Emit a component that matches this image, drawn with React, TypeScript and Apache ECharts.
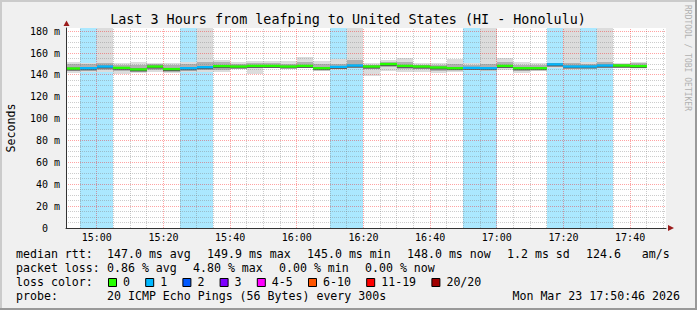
import React, { useEffect, useRef } from 'react';
import * as echarts from 'echarts';

// ---- data ----
const stepStarts = ['14:50','14:55','15:00','15:05','15:10','15:15','15:20','15:25','15:30','15:35','15:40','15:45','15:50','15:55','16:00','16:05','16:10','16:15','16:20','16:25','16:30','16:35','16:40','16:45','16:50','16:55','17:00','17:05','17:10','17:15','17:20','17:25','17:30','17:35','17:40'];
const medianMs = [145.8,146.1,147.6,146.4,145.0,147.6,145.3,146.1,147.0,148.0,147.6,148.2,148.2,147.6,148.2,146.1,147.3,148.5,147.6,149.9,148.2,147.6,146.7,146.1,146.4,146.1,148.2,146.1,146.1,149.6,147.6,147.6,148.5,148.5,148.0];
const lossCount = [0,1,1,0,0,0,0,1,1,0,0,0,0,0,0,0,1,1,0,0,0,0,0,0,1,1,0,0,0,1,1,1,1,0,0];
const smokeLo = [141.5,143,143,141,142,143,142,143,143,143,145.5,140.9,146,146,146.5,144,144.5,146,139.1,143.5,143,143,142,143,144.5,144,144.5,142,143.5,146.5,145,146,146,146,146];
const smokeHi = [152,151.3,200,151.3,152,151.3,150.7,152.2,200,153.7,151.5,153,153,152.5,156.7,153,154.3,200,151,153.7,156,150.7,150.7,154.3,150.7,200,155.2,152.2,151.3,151.3,200,152.2,200,151.3,152.2];
const innerLo = [143.5,144.0,144.5,143.5,143.0,145.0,143.0,144.0,144.5,144.5,146.0,146.0,146.5,146.0,146.5,144.5,145.5,146.5,145.5,147.0,145.5,145.5,144.0,144.5,145.0,144.5,146.0,144.0,144.5,147.5,146.0,146.5,146.5,146.5,146.5];
const innerHi = [150.5,150.0,151.0,149.5,149.5,150.0,149.0,150.5,151.5,151.5,150.0,151.0,151.0,150.5,152.0,150.5,150.5,153.5,149.5,152.0,151.5,149.5,149.0,150.0,149.0,150.5,151.5,149.0,149.0,151.0,151.0,150.5,152.0,150.5,151.0];
const xTickLabels = ['15:00','15:20','15:40','16:00','16:20','16:40','17:00','17:20','17:40'];
const yTickValues = [0,20,40,60,80,100,120,140,160,180];
const rttStats = ['147.0 ms avg','149.9 ms max','145.0 ms min','148.0 ms now','1.2 ms sd','124.6   am/s'];
const lossStats = ['0.86 % avg','4.80 % max','0.00 % min','0.00 % now'];
const lossLegendLabels = ['0','1','2','3','4-5','6-10','11-19','20/20'];
const titleText = 'Last 3 Hours from leafping to United States (HI - Honolulu)';
const probeText = '20 ICMP Echo Pings (56 Bytes) every 300s';
const dateText = 'Mon Mar 23 17:50:46 2026';

// ---- styles / layout ----
const lossColors = ['#26ff00','#00b8ff','#0059ff','#7e00ff','#ff00ff','#ff5500','#ff0000','#a10000'];
const MONO = '"DejaVu Sans Mono", monospace';
const STEP_MIN = 5;
const TIME_MIN = 14 * 60 + 50 + 46 / 60;
const TIME_MAX = TIME_MIN + 180;
const Y_MAX = 183;
const CHAR_W = 7;

function toMin(s: string) { const [h, m] = s.split(':').map(Number); return h * 60 + m; }
function fmtTime(v: number) {
  const h = Math.floor(v / 60); const m = Math.round(v - h * 60);
  return `${h}:${String(m).padStart(2, '0')}`;
}
function lossColorIdx(c: number) {
  if (c <= 0) return 0; if (c === 1) return 1; if (c === 2) return 2; if (c === 3) return 3;
  if (c <= 5) return 4; if (c <= 10) return 5; if (c <= 19) return 6; return 7;
}

function clipRect(params: any, api: any, xa: number, xb: number, ylo: number, yhi: number, roundY = false) {
  const a = api.coord([xa, yhi]);
  const b = api.coord([xb, ylo]);
  const x0 = Math.round(a[0]); const x1 = Math.round(b[0]);
  let y0 = a[1]; let y1 = b[1];
  if (roundY) { y0 = Math.round(y0); y1 = Math.round(y1); }
  const cs = params.coordSys;
  return echarts.graphic.clipRectByRect(
    { x: x0, y: y0, width: x1 - x0, height: y1 - y0 },
    { x: cs.x, y: cs.y, width: cs.width, height: cs.height }
  );
}

export default function App() {
  const ref = useRef<HTMLDivElement>(null);
  useEffect(() => {
    if (!ref.current) return;
    const chart = echarts.init(ref.current, undefined, { renderer: 'svg' });

    const steps = stepStarts.map((s, i) => {
      const t = toMin(s);
      return [t, t + STEP_MIN, smokeLo[i], smokeHi[i], innerLo[i], innerHi[i], medianMs[i], lossCount[i]];
    });

    // grid lines (layout, not data)
    const gridLines: number[][] = [];
    for (let t = 895; t <= 1070; t += 5) gridLines.push([t, 0, t, Y_MAX, t % 20 === 0 ? 1 : 0, 0]);
    for (let v = 5; v <= 180; v += 5) gridLines.push([TIME_MIN, v, TIME_MAX, v, v % 20 === 0 ? 1 : 0, 1]);

    const graphic: any[] = [];
    const txt = (text: string, x: number, y: number, extra: any = {}, el: any = {}) => ({
      type: 'text', x, y, z: 20, silent: true, ...el,
      style: {
        text, fontSize: 11.6, fontFamily: MONO, fill: '#000',
        align: 'left', verticalAlign: 'middle', textAlign: 'left', textVerticalAlign: 'middle', ...extra,
      },
    });
    // frame shading
    graphic.push({ type: 'rect', z: 1, silent: true, shape: { x: 0, y: 0, width: 697, height: 2 }, style: { fill: '#cbcbcb' } });
    graphic.push({ type: 'rect', z: 1, silent: true, shape: { x: 0, y: 0, width: 2, height: 310 }, style: { fill: '#cbcbcb' } });
    graphic.push({ type: 'rect', z: 1, silent: true, shape: { x: 0, y: 308, width: 697, height: 2 }, style: { fill: '#999999' } });
    graphic.push({ type: 'rect', z: 1, silent: true, shape: { x: 695, y: 0, width: 2, height: 310 }, style: { fill: '#999999' } });
    // title
    graphic.push(txt(titleText, 348, 19, { fontSize: 13.4, align: 'center', textAlign: 'center' }));
    // y label
    graphic.push(txt('Seconds', 0, 0, { align: 'center', textAlign: 'center' }, { x: 11, y: 128, rotation: Math.PI / 2 }));
    // watermark
    graphic.push(txt('RRDTOOL / TOBI OETIKER', 0, 0, { fontSize: 8, fill: '#b0b0b0' }, { x: 687, y: 5, rotation: -Math.PI / 2 }));
    // arrows
    graphic.push({ type: 'polygon', z: 20, silent: true, shape: { points: [[63.5, 26], [69.5, 26], [66.5, 20.5]] }, style: { fill: '#9b1c1c' } });
    graphic.push({ type: 'polygon', z: 20, silent: true, shape: { points: [[668, 225], [668, 231], [674, 228]] }, style: { fill: '#9b1c1c' } });
    // legend row 1
    graphic.push(txt('median rtt:', 16, 254));
    let x = 107;
    rttStats.forEach((s) => { graphic.push(txt(s, x, 254)); x += s.length * CHAR_W + 16; });
    // legend row 2
    graphic.push(txt('packet loss:', 16, 268));
    x = 107;
    lossStats.forEach((s) => { graphic.push(txt(s, x, 268)); x += s.length * CHAR_W + 16; });
    // legend row 3
    graphic.push(txt('loss color:', 16, 282));
    x = 108;
    lossLegendLabels.forEach((s, i) => {
      graphic.push({ type: 'rect', z: 20, silent: true, shape: { x: x + 0.5, y: 278.5, width: 8, height: 8 }, style: { fill: lossColors[i], stroke: '#000', lineWidth: 1 } });
      graphic.push(txt(s, x + 15, 282));
      x += 15 + s.length * CHAR_W + 15.2;
    });
    // legend row 4
    graphic.push(txt('probe:', 16, 296));
    graphic.push(txt(probeText, 107, 296));
    graphic.push(txt(dateText, 680, 296, { align: 'right', textAlign: 'right' }));

    const xLabelVals = xTickLabels.map(toMin);

    const option: any = {
      animation: false,
      backgroundColor: '#f0f0f0',
      grid: { left: 66, top: 28, width: 600, height: 200, show: true, backgroundColor: '#ffffff', borderWidth: 0 },
      xAxis: {
        type: 'value', min: TIME_MIN, max: TIME_MAX, z: 10,
        axisLine: { show: true, onZero: false, lineStyle: { color: '#333', width: 1 } },
        axisTick: { show: false }, splitLine: { show: false },
        axisLabel: {
          customValues: xLabelVals,
          formatter: (v: number) => (Math.abs(v - Math.round(v / 20) * 20) < 1e-6 ? fmtTime(v) : ''),
          fontFamily: MONO, fontSize: 10, color: '#000', margin: 4,
        },
      },
      yAxis: {
        type: 'value', min: 0, max: Y_MAX, interval: 20, z: 10,
        axisLine: { show: true, lineStyle: { color: '#333', width: 1 } },
        axisTick: { show: false }, splitLine: { show: false },
        axisLabel: {
          customValues: yTickValues,
          formatter: (v: number) => (yTickValues.indexOf(v) >= 0 ? (v === 0 ? '{z|0}' : `${v} m`) : ''),
          fontFamily: MONO, fontSize: 10, color: '#000', margin: 6,
          rich: { z: { padding: [0, 12, 0, 0], fontFamily: MONO, fontSize: 10, color: '#000' } },
        },
      },
      graphic,
      series: [
        {
          type: 'custom', name: 'lossBands', silent: true, z: 1, data: steps,
          renderItem: (params: any, api: any) => {
            const loss = api.value(7);
            if (!loss) return null;
            const shape = clipRect(params, api, api.value(0), api.value(1), 0, Y_MAX);
            if (!shape) return null;
            const c = lossColors[lossColorIdx(loss)];
            return { type: 'rect', shape, style: { fill: c, opacity: 0.33 } };
          },
        },
        {
          type: 'custom', name: 'smoke', silent: true, z: 2, data: steps,
          renderItem: (params: any, api: any) => {
            const children: any[] = [];
            const outer = clipRect(params, api, api.value(0), api.value(1), api.value(2), api.value(3), true);
            if (outer) children.push({ type: 'rect', shape: outer, style: { fill: '#dcdcdc' } });
            const inner = clipRect(params, api, api.value(0), api.value(1), api.value(4), api.value(5), true);
            if (inner) children.push({ type: 'rect', shape: inner, style: { fill: '#b0b0b0' } });
            const m = api.value(6);
            const core = clipRect(params, api, api.value(0), api.value(1), m - 1.7, m + 0.9);
            if (core) children.push({ type: 'rect', shape: core, style: { fill: '#555555' } });
            return { type: 'group', children };
          },
        },
        {
          type: 'custom', name: 'grid', silent: true, z: 3, data: gridLines,
          renderItem: (params: any, api: any) => {
            const p1 = api.coord([api.value(0), api.value(1)]);
            const p2 = api.coord([api.value(2), api.value(3)]);
            const major = api.value(4) === 1;
            const horiz = api.value(5) === 1;
            let shape;
            if (horiz) { const y = Math.floor(p1[1]) + 0.5; shape = { x1: p1[0], y1: y, x2: p2[0], y2: y }; }
            else { const xx = Math.floor(p1[0]) + 0.5; shape = { x1: xx, y1: p1[1], x2: xx, y2: p2[1] }; }
            return {
              type: 'line', shape,
              style: { stroke: major ? 'rgba(255,0,0,0.36)' : 'rgba(128,128,128,0.4)', lineWidth: 1, lineDash: [1, 1] },
            };
          },
        },
        {
          type: 'custom', name: 'median', silent: true, z: 4, data: steps,
          renderItem: (params: any, api: any) => {
            const m = api.value(6);
            const a = api.coord([api.value(0), m]);
            const b = api.coord([api.value(1), m]);
            const x0 = Math.round(a[0]); const x1 = Math.round(b[0]);
            const cs = params.coordSys;
            const shape = echarts.graphic.clipRectByRect(
              { x: x0, y: a[1] - 1.3, width: x1 - x0, height: 2.3 },
              { x: cs.x, y: cs.y, width: cs.width, height: cs.height }
            );
            if (!shape) return null;
            return { type: 'rect', shape, style: { fill: lossColors[lossColorIdx(api.value(7))] } };
          },
        },
      ],
    };
    chart.setOption(option);
    return () => { chart.dispose(); };
  }, []);
  return <div ref={ref} style={{ position: 'fixed', left: 0, top: 0, width: 697, height: 310 }} />;
}
